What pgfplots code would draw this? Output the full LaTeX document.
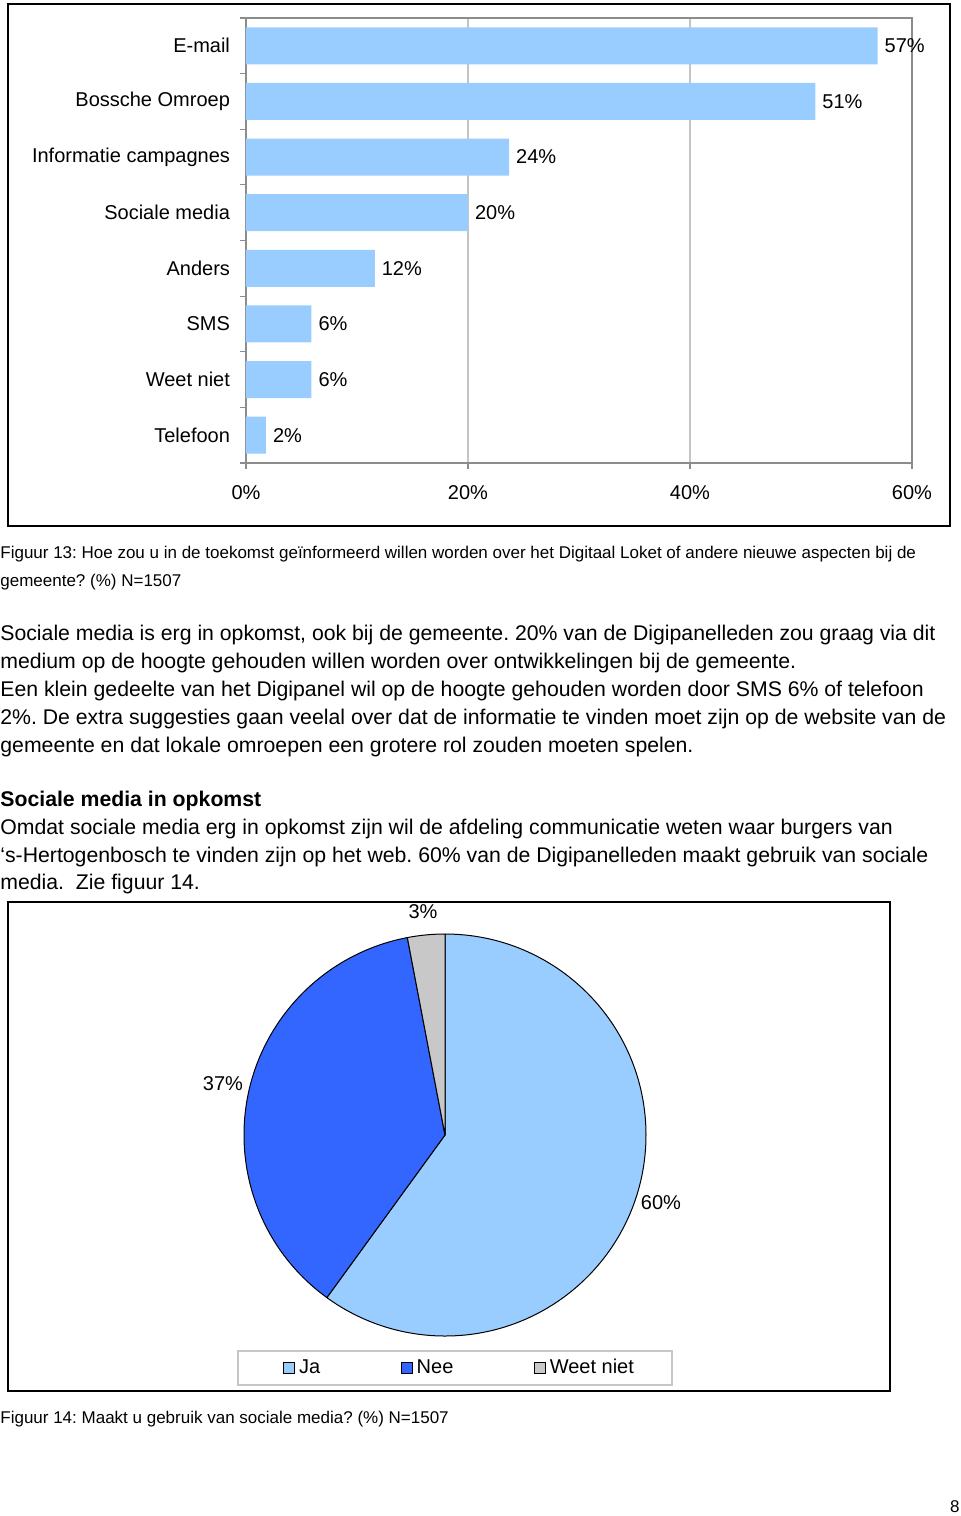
\documentclass[border=0pt]{standalone}
\usepackage{pgfplots}
\pgfplotsset{compat=1.18}
\usepackage{fontspec}
\setmainfont{Liberation Sans}
\frenchspacing
\definecolor{barblue}{HTML}{99CCFF}
\definecolor{neeblue}{HTML}{3366FF}
\definecolor{wngray}{HTML}{C8C8C8}
\definecolor{axgray}{HTML}{8C8C8C}
\definecolor{gridgray}{HTML}{C4C4C4}
\newcommand\chartfont{\fontsize{10}{12}\selectfont}
\newcommand\capfont{\fontsize{8.5}{10}\selectfont}
\newcommand\parfont{\fontsize{10.62}{12}\selectfont}
\begin{document}
\begin{tikzpicture}
\path[use as bounding box] (0,0) rectangle (480pt,-758pt);
\begin{scope}[x=0.5pt,y=-0.5pt]
\draw[line width=1pt] (8,4) rectangle (950,526);
\draw[line width=0.8pt] (8,902) rectangle (890,1391);
\draw[gray!45, line width=0.6pt] (238,1351) rectangle (672,1385);
\begin{scope}[every node/.style={inner sep=0pt, anchor=base west}]
\node[font=\capfont] at (0,558) {Figuur 13: Hoe zou u in de toekomst geïnformeerd willen worden over het Digitaal Loket of andere nieuwe aspecten bij de};
\node[font=\capfont] at (0,586) {gemeente? (\%) N=1507};
\node[font=\parfont] at (0,640) {Sociale media is erg in opkomst, ook bij de gemeente. 20\% van de Digipanelleden zou graag via dit};
\node[font=\parfont] at (0,668) {medium op de hoogte gehouden willen worden over ontwikkelingen bij de gemeente.};
\node[font=\parfont] at (0,696) {Een klein gedeelte van het Digipanel wil op de hoogte gehouden worden door SMS 6\% of telefoon};
\node[font=\parfont] at (0,724) {2\%. De extra suggesties gaan veelal over dat de informatie te vinden moet zijn op de website van de};
\node[font=\parfont] at (0,752) {gemeente en dat lokale omroepen een grotere rol zouden moeten spelen.};
\node[font=\parfont\bfseries] at (0,806) {Sociale media in opkomst};
\node[font=\parfont] at (0,834) {Omdat sociale media erg in opkomst zijn wil de afdeling communicatie weten waar burgers van};
\node[font=\parfont] at (0,862) {‘s-Hertogenbosch te vinden zijn op het web. 60\% van de Digipanelleden maakt gebruik van sociale};
\node[font=\parfont] at (0,889) {media.\ \ Zie figuur 14.};
\node[font=\capfont] at (0,1423) {Figuur 14: Maakt u gebruik van sociale media? (\%) N=1507};
\node[font=\capfont, anchor=base east] at (960,1512) {8};
\end{scope}
\begin{scope}[every node/.style={inner sep=0pt, anchor=center, font=\chartfont}]
\node at (423,912) {3\%};
\node at (223,1084) {37\%};
\node at (661,1203) {60\%};
\end{scope}
\end{scope}

\begin{axis}[
  at={(123pt,-9pt)}, anchor=north west,
  scale only axis, width=333pt, height=222.5pt,
  xbar, bar width=18.5pt,
  xmin=0, xmax=60, ymin=-0.5, ymax=7.5, y dir=reverse,
  xtick={0,20,40,60},
  xticklabel={\pgfmathprintnumber{\tick}\%},
  ytick={-0.5,0.5,1.5,2.5,3.5,4.5,5.5,6.5,7.5},
  yticklabels={},
  extra y ticks={0,1,2,3,4,5,6,7},
  extra y tick labels={E-mail,Bossche Omroep,Informatie campagnes,Sociale media,Anders,SMS,Weet niet,Telefoon},
  extra y tick style={major tick length=0pt},
  xtick pos=bottom, ytick pos=left,
  tick align=outside, major tick length=3.2pt,
  tick style={axgray, line width=0.6pt},
  axis line style={axgray, line width=0.8pt},
  xmajorgrids, grid style={gridgray, line width=0.6pt},
  /pgf/number format/assume math mode=true,
  ticklabel style={font=\chartfont},
  y tick label style={xshift=-4.5pt},
  x tick label style={yshift=-4.5pt},
  nodes near coords={\pgfmathprintnumber[fixed,precision=0]{\pgfplotspointmeta}\%},
  point meta=x,
  nodes near coords style={font=\chartfont, black, /pgf/number format/assume math mode=true},
]
\addplot[fill=barblue, draw=none] coordinates {
(56.9,0) (51.3,1) (23.7,2) (20.0,3) (11.6,4) (5.9,5) (5.9,6) (1.8,7)};
\end{axis}

\begin{axis}[
  at={(222.5pt,-567.5pt)}, anchor=center,
  scale only axis, width=201pt, height=201pt,
  xmin=-1, xmax=1, ymin=-1, ymax=1,
  hide axis, clip=false,
  legend columns=3,
  legend image code/.code={\draw[#1, draw=black, line width=0.4pt] (0pt,-2.75pt) rectangle (5.5pt,2.75pt);},
  legend style={at={(0.097,-0.0796)}, anchor=west, draw=none, fill=none, inner sep=0pt,
    font=\chartfont, /tikz/every even column/.append style={column sep=38.3pt},
    nodes={inner xsep=2pt}},
]
\def\R{100.5pt}
\def\ja{60}\def\nee{37}\def\wn{3}
\pgfmathsetmacro\aA{90-3.6*\ja}
\pgfmathsetmacro\aB{\aA-3.6*\nee}
\fill[barblue, draw=black, line width=0.5pt] (axis cs:0,0) -- ++(90:\R) arc[start angle=90, end angle=\aA, radius=\R] -- cycle;
\fill[neeblue, draw=black, line width=0.5pt] (axis cs:0,0) -- ++(\aA:\R) arc[start angle=\aA, end angle=\aB, radius=\R] -- cycle;
\fill[wngray, draw=black, line width=0.5pt] (axis cs:0,0) -- ++(\aB:\R) arc[start angle=\aB, end angle=-270, radius=\R] -- cycle;
\addlegendimage{fill=barblue}
\addlegendentry{Ja}
\addlegendimage{fill=neeblue}
\addlegendentry{Nee}
\addlegendimage{fill=wngray}
\addlegendentry{Weet niet}
\end{axis}
\end{tikzpicture}
\end{document}
